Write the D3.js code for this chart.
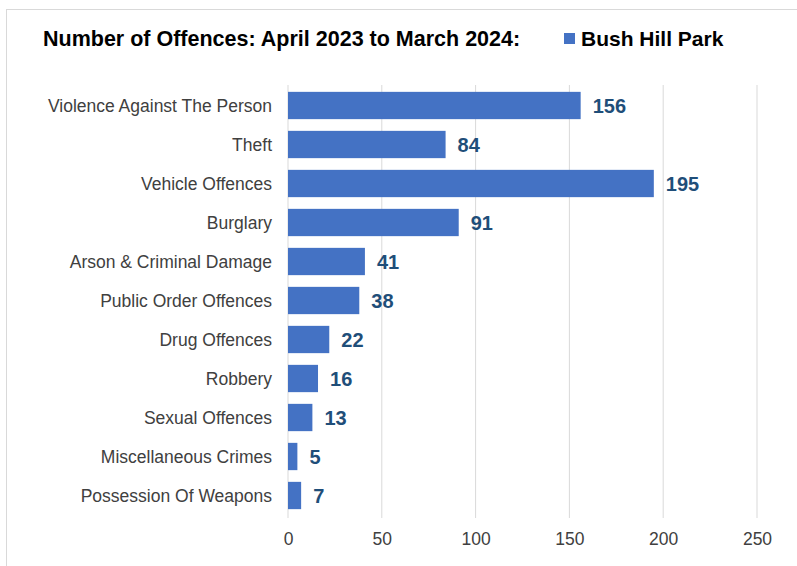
<!DOCTYPE html>
<html>
<head>
<meta charset="utf-8">
<script src="https://cdn.jsdelivr.net/npm/d3@7"></script>
<style>
  body { margin: 0; background: #fff; }
  svg { display: block; font-family: "Liberation Sans", Arial, sans-serif; }
</style>
</head>
<body>
<svg id="chart" width="797" height="566"></svg>
<script>
// Categories top to bottom, as in the picture
const categories = [
  "Violence Against The Person",
  "Theft",
  "Vehicle Offences",
  "Burglary",
  "Arson & Criminal Damage",
  "Public Order Offences",
  "Drug Offences",
  "Robbery",
  "Sexual Offences",
  "Miscellaneous Crimes",
  "Possession Of Weapons"
];
const offences = [156, 84, 195, 91, 41, 38, 22, 16, 13, 5, 7];
const xTicks = [0, 50, 100, 150, 200, 250];
const seriesName = "Bush Hill Park";
const title = "Number of Offences: April 2023 to March 2024:";

const data = categories.map((c, i) => ({name: c, value: offences[i]}));

const svg = d3.select("#chart");

// light frame round the chart
svg.append("rect")
  .attr("x", 6.5).attr("y", 9.5)
  .attr("width", 820).attr("height", 620)
  .attr("fill", "#fff")
  .attr("stroke", "#d9d9d9");

const plot = {left: 288, right: 757, top: 85, bottom: 518};

const x = d3.scaleLinear().domain([0, 250]).range([plot.left, plot.right]);
const y = d3.scaleBand()
  .domain(categories)
  .range([plot.top + 1, plot.top + 1 + 39 * 11])
  .paddingInner(0.3)
  .paddingOuter(0.15);

// Gridlines
svg.append("g")
  .selectAll("line")
  .data(xTicks)
  .join("line")
  .attr("x1", d => x(d)).attr("x2", d => x(d))
  .attr("y1", plot.top).attr("y2", plot.bottom)
  .attr("stroke", "#d9d9d9")
  .attr("stroke-width", 1);

// x axis labels
const xAxis = svg.append("g")
  .attr("transform", `translate(0, ${plot.bottom})`)
  .call(d3.axisBottom(x).tickValues(xTicks).tickSize(0).tickPadding(15));
xAxis.select(".domain").remove();
xAxis.selectAll("text")
  .attr("fill", "#404040")
  .style("font-size", "17.5px")
  .style("font-family", "'Liberation Sans', Arial, sans-serif");

// y axis labels
const yAxis = svg.append("g")
  .attr("transform", `translate(${plot.left}, 0)`)
  .call(d3.axisLeft(y).tickSize(0).tickPadding(16));
yAxis.select(".domain").remove();
yAxis.selectAll("text")
  .attr("fill", "#404040")
  .attr("dy", "0.38em")
  .style("font-size", "17.5px")
  .style("font-family", "'Liberation Sans', Arial, sans-serif");

// Bars
svg.append("g")
  .selectAll("rect")
  .data(data)
  .join("rect")
  .attr("x", x(0))
  .attr("y", d => y(d.name))
  .attr("width", d => x(d.value) - x(0))
  .attr("height", y.bandwidth())
  .attr("fill", "#4472c4");

// Value labels
svg.append("g")
  .selectAll("text")
  .data(data)
  .join("text")
  .attr("x", d => x(d.value) + 12)
  .attr("y", d => y(d.name) + y.bandwidth() / 2)
  .attr("dy", "0.36em")
  .attr("fill", "#1f4e79")
  .style("font-size", "20px")
  .style("font-weight", "bold")
  .text(d => d.value);

// Title
svg.append("text")
  .attr("x", 43).attr("y", 46)
  .attr("fill", "#000")
  .style("font-size", "21.5px")
  .style("font-weight", "bold")
  .text(title);

// Legend
svg.append("rect")
  .attr("x", 564).attr("y", 33)
  .attr("width", 11).attr("height", 11)
  .attr("fill", "#4472c4");
svg.append("text")
  .attr("x", 581).attr("y", 46)
  .attr("fill", "#000")
  .style("font-size", "21px")
  .style("font-weight", "bold")
  .text(seriesName);
</script>
</body>
</html>
